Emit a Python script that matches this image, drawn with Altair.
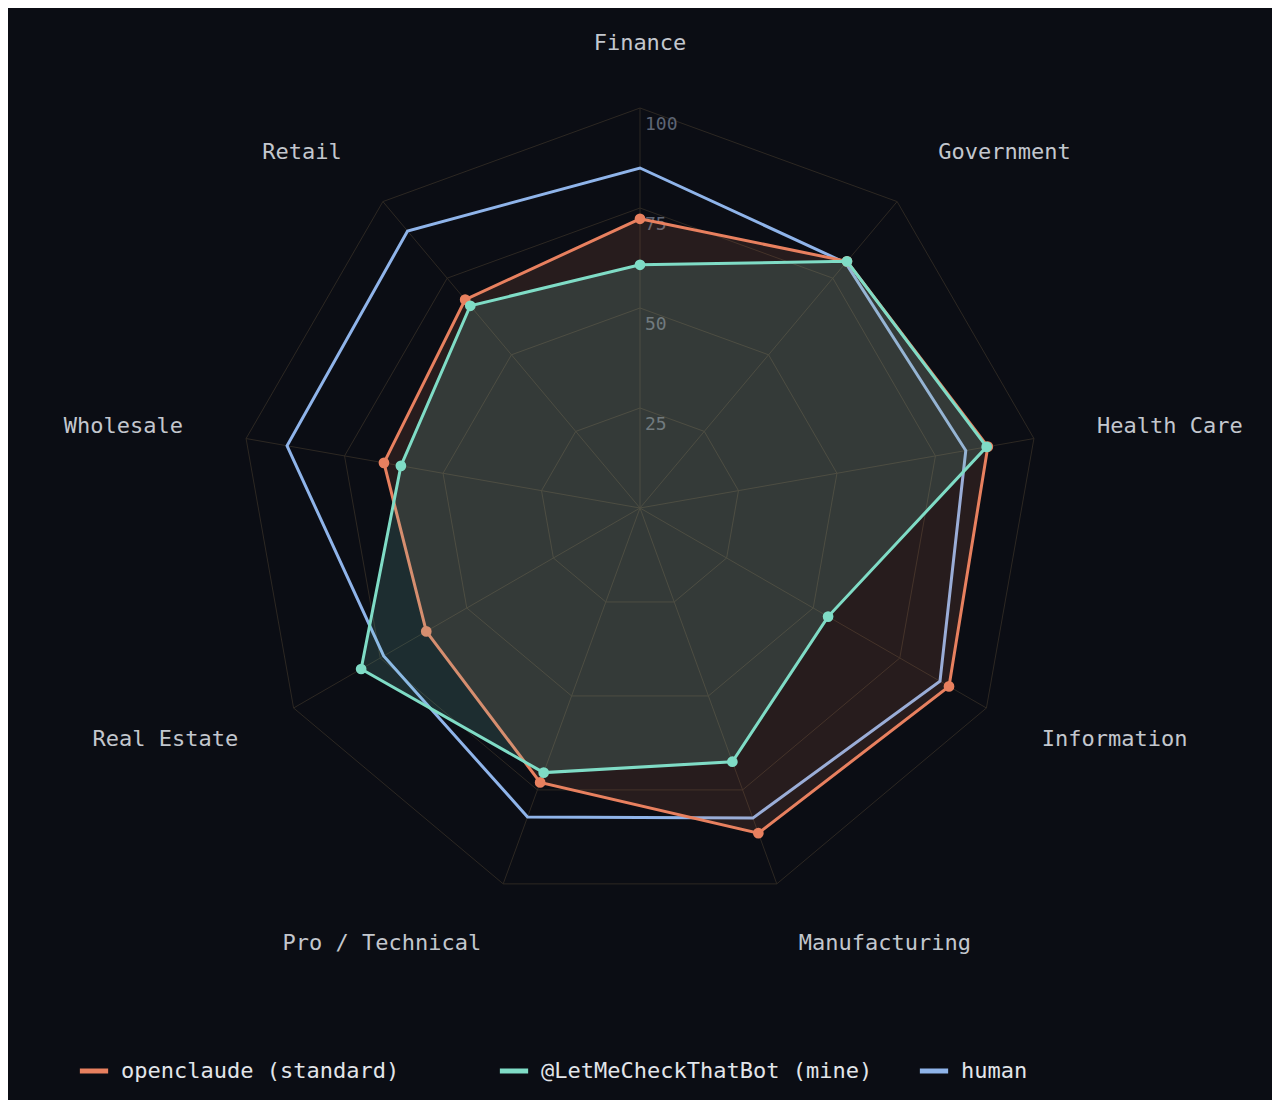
import altair as alt
import pandas as pd

categories = ["Finance", "Government", "Health Care", "Information", "Manufacturing",
              "Pro / Technical", "Real Estate", "Wholesale", "Retail"]
series_names = ["openclaude (standard)", "@LetMeCheckThatBot (mine)", "human"]
openclaude = [72.3, 80.5, 88.3, 89.2, 86.5, 73.0, 61.7, 65.0, 68.0]
mine = [60.8, 80.5, 88.0, 54.3, 67.5, 70.4, 80.5, 60.7, 66.0]
human = [85.0, 80.0, 82.7, 86.6, 82.5, 82.2, 74.0, 89.6, 90.4]
ring_values = [25, 50, 75, 100]
ring_text = ["25", "50", "75", "100"]
colors = ["#e8805f", "#7fdcc6", "#8fb4ea"]

N = len(categories)
BG = "#0b0d14"
FONT = "DejaVu Sans Mono"

series_values = [openclaude, mine, human]
rows = []
for s, vals in zip(series_names, series_values):
    for i, (c, v) in enumerate(zip(categories, vals)):
        rows.append({"series": s, "category": c, "idx": i, "v": v})
df = pd.DataFrame(rows)

grid_df = pd.DataFrame([{"ring": r, "idx": i, "v": r} for r in ring_values for i in range(N)])
spoke_df = pd.DataFrame([{"idx": i, "v": max(ring_values)} for i in range(N)])
ticks_df = pd.DataFrame({"v": ring_values, "label": ring_text, "idx": [0] * len(ring_values)})
cat_df = pd.DataFrame({"category": categories, "idx": list(range(N)), "v": [116] * N})

xs = alt.Scale(domain=[-158, 158])
ys = alt.Scale(domain=[-148, 125])


def polar(ch):
    return ch.transform_calculate(
        theta=f"datum.idx * 2 * PI / {N}"
    ).transform_calculate(
        px="datum.v * sin(datum.theta)",
        py="datum.v * cos(datum.theta)",
    )


X = alt.X("px:Q", scale=xs, axis=None)
Y = alt.Y("py:Q", scale=ys, axis=None)

grid = polar(alt.Chart(grid_df)).mark_line(
    interpolate="linear-closed", stroke="#2d2823", strokeWidth=1
).encode(x=X, y=Y, detail="ring:N", order="idx:Q")

spokes = polar(alt.Chart(spoke_df)).transform_calculate(x0="0", y0="0").mark_rule(
    stroke="#2d2823", strokeWidth=1
).encode(x=alt.X("x0:Q", scale=xs, axis=None), y=alt.Y("y0:Q", scale=ys, axis=None),
         x2="px:Q", y2="py:Q")

tick_labels = polar(alt.Chart(ticks_df)).mark_text(
    font=FONT, fontSize=18, color="#5d6574", align="left", baseline="middle", dx=5, dy=17
).encode(x=X, y=Y, text="label:N")

cat_center = polar(alt.Chart(cat_df)).transform_filter("datum.idx == 0").mark_text(
    font=FONT, fontSize=22, color="#c3c7ce", align="center", baseline="middle", dy=-1
).encode(x=X, y=Y, text="category:N")
cat_right = polar(alt.Chart(cat_df)).transform_filter(f"datum.idx > 0 && datum.idx <= {N // 2}").mark_text(
    font=FONT, fontSize=22, color="#c3c7ce", align="left", baseline="middle", dy=-1
).encode(x=X, y=Y, text="category:N")
cat_left = polar(alt.Chart(cat_df)).transform_filter(f"datum.idx > {N // 2}").mark_text(
    font=FONT, fontSize=22, color="#c3c7ce", align="right", baseline="middle", dy=-1
).encode(x=X, y=Y, text="category:N")

color_scale = alt.Scale(domain=series_names, range=colors)
legend = alt.Legend(
    orient="none", legendX=69, legendY=1046, direction="horizontal", columns=3,
    title=None, symbolType="stroke", symbolSize=800, symbolStrokeWidth=5,
    labelFont=FONT, labelFontSize=22, labelColor="#e2e5ea", labelOffset=10,
    columnPadding=36, gridAlign="all", labelLimit=500,
)

fill_opacity = {series_names[0]: 0.13, series_names[1]: 0.16, series_names[2]: 0.0}
layers = []
for i in [2, 0, 1]:
    s = series_names[i]
    base = polar(alt.Chart(df)).transform_filter(alt.datum.series == s)
    line = base.mark_line(
        interpolate="linear-closed", strokeWidth=3, fill=colors[i], fillOpacity=fill_opacity[s]
    ).encode(
        x=X, y=Y, order="idx:Q",
        stroke=alt.Stroke("series:N", scale=color_scale, legend=legend),
    )
    layers.append(line)
    if i != 2:
        pts = base.mark_circle(size=115, opacity=1).encode(
            x=X, y=Y, color=alt.Color("series:N", scale=color_scale, legend=None)
        )
        layers.append(pts)

chart = alt.layer(
    grid, spokes, tick_labels, *layers, cat_center, cat_right, cat_left
).properties(
    width=1264, height=1092, background=BG,
    autosize=alt.AutoSizeParams(type="none"), padding=0,
).configure_view(stroke=None)

chart.save("out.html", embed_options={"renderer": "svg", "actions": False})
